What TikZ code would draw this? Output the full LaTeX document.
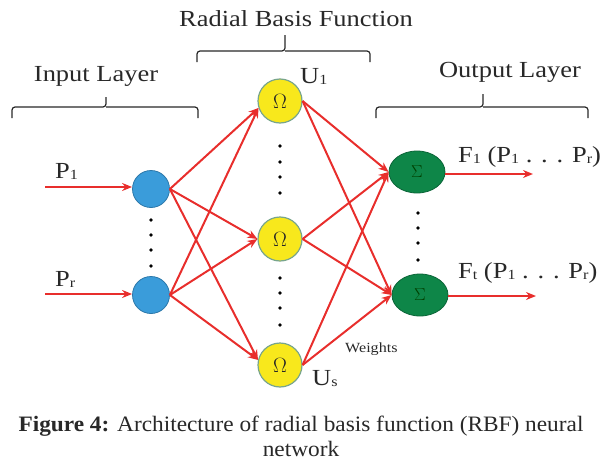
\documentclass[tikz,border=0pt]{standalone}
\usepackage{fontspec}
\setmainfont{Liberation Serif}
\newfontfamily\lblfont[FakeStretch=1.15]{Liberation Serif}
\newfontfamily\capfont[FakeStretch=1.06]{Liberation Serif}
\usetikzlibrary{arrows.meta,shapes.geometric}
\definecolor{arrred}{RGB}{232,46,44}
\definecolor{inblue}{RGB}{58,156,218}
\definecolor{inblueb}{RGB}{44,120,170}
\definecolor{rbfyel}{RGB}{248,232,28}
\definecolor{rbfyelb}{RGB}{120,165,140}
\definecolor{outgrn}{RGB}{14,134,72}
\definecolor{outgrnb}{RGB}{10,100,55}
\definecolor{txtgray}{RGB}{40,40,40}
\newcommand\sbx[1]{\raisebox{-0.15ex}{\fontsize{14}{14}\selectfont #1}}
\begin{document}
\begin{tikzpicture}[x=1pt,y=-1pt,
  inode/.style={circle,draw=inblueb,fill=inblue,line width=0.8pt,minimum size=37pt,inner sep=0pt},
  rnode/.style={circle,draw=rbfyelb,fill=rbfyel,line width=1.2pt,minimum size=44pt,inner sep=0pt,
     font=\fontsize{20}{20}\selectfont,text=black!85},
  onode/.style={ellipse,draw=outgrnb,fill=outgrn,line width=0.8pt,minimum width=56pt,minimum height=42pt,inner sep=0pt,
     font=\fontsize{19}{19}\selectfont,text=black!75!green},
  conn/.style={arrred,line width=2pt,-{Stealth[length=10pt,width=8pt]}},
  brace/.style={draw=txtgray,line width=1.2pt,rounded corners=3pt},
  lbl/.style={font=\lblfont\fontsize{23}{23}\selectfont,text=txtgray,inner sep=0pt},
  captext/.style={anchor=base,inner sep=0pt,font=\capfont\fontsize{22}{22}\selectfont,text=txtgray},
  dot/.style={fill=black}
]
\useasboundingbox (0,0) rectangle (600,463);
% nodes
\node[inode] (b1) at (151,189) {};
\node[inode] (b2) at (151,295) {};
\node[rnode] (y1) at (280,101) {$\Omega$};
\node[rnode] (y2) at (280,239) {$\Omega$};
\node[rnode] (y3) at (280,365) {$\Omega$};
\node[onode] (g1) at (417,172) {$\Sigma$};
\node[onode] (g2) at (420,295) {$\Sigma$};
% free ends
\coordinate (i1) at (45,187);
\coordinate (i2) at (45,294);
\coordinate (o1) at (533,174);
\coordinate (o2) at (536,296);
% connectors
\draw[conn] (i1) -- (b1.west |- i1);
\draw[conn] (i2) -- (b2.west |- i2);
\foreach \b in {b1,b2}{
  \draw[conn] (\b.east) -- (y1.198);
  \draw[conn] (\b.east) -- (y2.west);
  \draw[conn] (\b.east) -- (y3.167);
}
\foreach \y in {y1,y2,y3}{
  \foreach \g in {g1,g2}{
    \draw[conn] (\y.east) -- (\g.west);
  }
}
\draw[conn] (g1.east |- o1) -- (o1);
\draw[conn] (g2.east |- o2) -- (o2);
% dots
\foreach \yy in {220,235,250,266}{\fill[dot] (151,\yy) circle (1.8pt);}
\foreach \yy in {146,162,177,193}{\fill[dot] (280,\yy) circle (1.8pt);}
\foreach \yy in {278,293,308,325}{\fill[dot] (280,\yy) circle (1.8pt);}
\foreach \yy in {213,228,243,260}{\fill[dot] (418,\yy) circle (1.8pt);}
% braces
\draw[brace] (12,118) -- (12,107) -- (106,107) -- (106,97);
\draw[brace] (106,107) -- (198,107) -- (198,118);
\draw[brace] (197,62) -- (197,51) -- (285,51) -- (285,35);
\draw[brace] (285,51) -- (370,51) -- (370,62);
\draw[brace] (376,118) -- (376,107) -- (483,107) -- (483,94);
\draw[brace] (483,107) -- (588,107) -- (588,118);
% labels
\node[lbl,anchor=base] (tin) at (96,81) {Input Layer};
\node[lbl,anchor=base] (trbf) at (296,27) {Radial Basis Function};
\node[lbl,anchor=base] (tout) at (510,77) {Output Layer};
\node[lbl,anchor=base west] (tp1) at (55,178) {P\sbx{1}};
\node[lbl,anchor=base west] (tpr) at (55,286) {P\sbx{r}};
\node[lbl,anchor=base west] (tu1) at (300,83) {U\sbx{1}};
\node[lbl,anchor=base west] (tus) at (312,385) {U\sbx{s}};
\node[lbl,anchor=base west] (tf1) at (458,162) {F\sbx{1} (P\sbx{1} . . . P\sbx{r})};
\node[lbl,anchor=base west] (tft) at (458,278) {F\sbx{t} (P\sbx{1} . . . P\sbx{r})};
\node[lbl,anchor=base west,font=\lblfont\fontsize{14}{14}\selectfont] (tw) at (345,352) {Weights};
% caption
\node[captext] (cap1) at (301,431)
  {\textbf{Figure 4:} Architecture of radial basis function (RBF) neural};
\node[captext] (cap2) at (301,456) {network};
\end{tikzpicture}
\end{document}
